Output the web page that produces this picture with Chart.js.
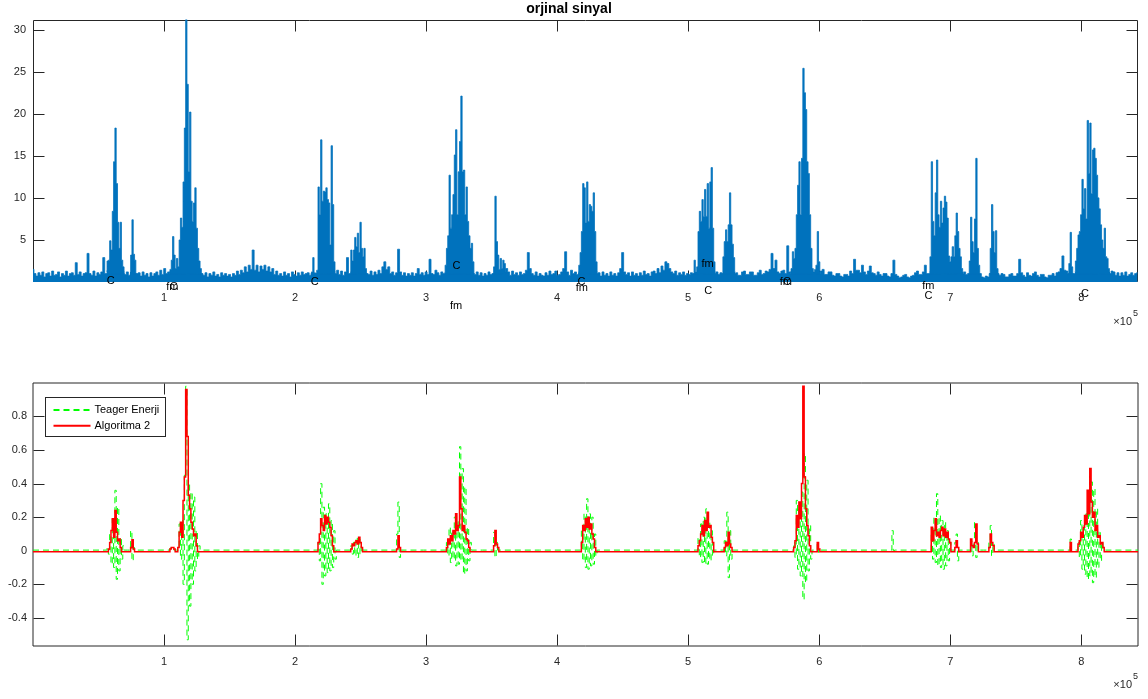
<!DOCTYPE html>
<html>
<head>
<meta charset="utf-8">
<script src="https://cdn.jsdelivr.net/npm/chart.js@4.4.1/dist/chart.umd.min.js"></script>
<style>
  html, body { margin: 0; padding: 0; background: #fff; }
  #wrap { position: relative; width: 1148px; height: 699px; }
  canvas { position: absolute; left: 0; }
  #signalChart { top: 0; }
  #energyChart { top: 340px; }
</style>
</head>
<body>
<div id="wrap">
  <canvas id="signalChart" width="1148" height="340"></canvas>
  <canvas id="energyChart" width="1148" height="359"></canvas>
</div>
<script>
// ---------------- data ----------------
// sample axis shared by both plots
const sampleRange = [0, 843300];
const xTickValues = [100000, 200000, 300000, 400000, 500000, 600000, 700000, 800000];
const xTickText = ['1', '2', '3', '4', '5', '6', '7', '8'];
const xExponent = '5';

// upper plot: original signal
const signalTitle = 'orjinal sinyal';
const signalYRange = [0, 31.2];
const signalYTicks = [5, 10, 15, 20, 25, 30];

// background level of the signal, one value every noiseStep samples (20 per row = 30000 samples)
const noiseStep = 1500;
const signalNoise = [
  1.5, 1.0, 0.7, 1.1, 0.8, 1.2, 0.6, 1.0, 1.1, 0.7, 1.3, 0.8, 0.9, 1.2, 0.6, 1.0, 0.8, 1.3, 0.7, 1.0,
  1.1, 0.8, 2.3, 0.9, 1.2, 0.7, 1.0, 1.1, 3.4, 1.0, 0.8, 1.3, 0.7, 1.1, 0.9, 1.2, 2.9, 1.0, 1.0, 1.0,
  1.0, 1.0, 1.0, 1.0, 1.0, 1.0, 1.0, 0.9, 1.2, 0.8, 1.0, 1.0, 1.0, 1.0, 1.1, 0.7, 1.2, 0.8, 1.0, 0.6,
  1.1, 0.7, 1.0, 1.2, 0.8, 1.4, 0.9, 1.6, 1.0, 1.2, 1.0, 1.0, 1.0, 1.0, 1.0, 1.0, 1.0, 1.0, 1.0, 1.0,
  1.0, 1.0, 1.0, 1.0, 1.0, 1.0, 1.0, 0.8, 1.1, 0.6, 1.0, 0.8, 1.2, 0.7, 0.9, 0.6, 1.1, 0.8, 1.0, 0.7,
  0.9, 0.6, 1.0, 0.8, 1.3, 0.9, 1.4, 1.1, 1.8, 1.2, 2.0, 1.5, 3.8, 1.4, 2.0, 1.2, 1.9, 1.5, 2.0, 1.3,
  1.8, 1.2, 1.6, 0.9, 1.3, 0.8, 1.0, 0.7, 1.2, 0.8, 1.0, 0.6, 1.2, 0.9, 0.7, 1.1, 0.8, 1.2, 0.9, 1.0,
  1.1, 0.8, 1.0, 1.0, 1.0, 1.0, 1.0, 1.0, 1.0, 1.0, 1.0, 1.0, 1.0, 1.0, 1.0, 1.4, 0.9, 1.3, 0.8, 1.2,
  2.9, 1.0, 1.0, 1.0, 1.0, 1.0, 1.0, 1.0, 1.0, 1.0, 1.0, 0.9, 1.3, 0.8, 1.2, 0.9, 1.4, 1.0, 1.8, 2.4,
  1.5, 1.8, 1.0, 1.2, 0.8, 1.1, 3.9, 1.2, 0.8, 1.1, 0.7, 1.0, 0.8, 1.1, 0.7, 1.0, 1.6, 0.9, 1.1, 0.8,
  1.2, 0.9, 2.7, 1.0, 0.9, 1.4, 1.1, 0.8, 1.2, 1.0, 1.0, 1.0, 1.0, 1.0, 1.0, 1.0, 1.0, 1.0, 1.0, 1.0,
  1.0, 1.0, 1.0, 1.0, 1.0, 0.9, 1.2, 0.8, 1.1, 0.7, 1.0, 0.8, 1.2, 0.9, 1.0, 1.0, 1.0, 1.0, 1.0, 1.0,
  1.0, 1.6, 1.2, 0.8, 1.3, 0.9, 1.1, 0.8, 1.2, 0.9, 1.0, 1.4, 3.5, 1.6, 1.0, 0.8, 1.2, 0.7, 1.0, 0.8,
  0.7, 1.1, 0.8, 1.3, 0.9, 1.0, 1.3, 0.8, 0.9, 1.2, 1.6, 3.6, 1.2, 0.8, 1.4, 1.0, 1.2, 0.9, 1.0, 1.0,
  1.0, 1.0, 1.0, 1.0, 1.0, 1.0, 1.0, 1.0, 1.1, 0.7, 1.2, 0.8, 1.0, 0.7, 1.2, 0.8, 1.0, 0.7, 1.1, 1.6,
  3.5, 1.2, 0.9, 1.1, 0.7, 1.2, 0.8, 1.0, 0.7, 1.1, 0.8, 1.3, 0.9, 1.0, 0.7, 1.2, 1.3, 1.0, 1.6, 1.1,
  1.9, 1.4, 2.4, 2.2, 1.6, 1.2, 1.0, 1.3, 0.8, 1.1, 0.9, 1.2, 0.8, 1.0, 0.9, 1.1, 1.0, 1.0, 1.0, 1.0,
  1.0, 1.0, 1.0, 1.0, 1.0, 1.0, 1.0, 1.0, 1.2, 0.9, 1.1, 1.0, 1.0, 1.0, 1.0, 1.0, 1.0, 1.0, 1.1, 0.8,
  0.8, 1.2, 1.3, 0.9, 0.9, 1.2, 1.2, 0.8, 0.8, 1.1, 1.4, 0.9, 1.0, 1.3, 1.2, 1.5, 3.4, 1.6, 2.6, 1.2,
  1.0, 1.3, 1.4, 1.0, 4.3, 1.2, 1.0, 1.0, 1.0, 1.0, 1.0, 1.0, 1.0, 1.0, 1.0, 1.0, 1.0, 1.0, 1.0, 1.0,
  1.0, 1.3, 1.5, 0.9, 0.9, 1.2, 1.2, 0.8, 0.7, 1.0, 1.0, 0.7, 0.6, 0.9, 0.9, 0.7, 1.3, 1.0, 2.7, 1.4,
  1.4, 1.1, 2.0, 1.2, 0.9, 1.3, 1.9, 1.1, 1.0, 0.8, 1.2, 0.9, 0.7, 1.0, 1.0, 0.7, 0.6, 1.0, 2.6, 0.9,
  0.7, 0.5, 0.6, 0.8, 0.9, 0.6, 0.5, 0.7, 0.8, 1.1, 1.3, 0.9, 0.9, 1.2, 2.0, 1.0, 1.0, 1.0, 1.0, 1.0,
  1.0, 1.0, 1.0, 1.0, 1.0, 1.0, 1.0, 1.0, 1.0, 1.0, 1.0, 1.0, 1.0, 1.0, 1.2, 0.9, 1.0, 1.0, 1.0, 1.0,
  1.0, 1.0, 1.0, 0.6, 0.5, 0.7, 0.6, 1.0, 1.0, 1.0, 1.0, 1.0, 0.8, 1.0, 0.9, 0.6, 0.6, 0.9, 1.0, 0.7,
  0.7, 1.0, 2.7, 1.1, 0.8, 0.6, 1.1, 0.8, 0.7, 1.0, 1.2, 0.8, 0.6, 0.9, 0.9, 0.6, 0.5, 0.8, 0.8, 1.0,
  0.7, 1.1, 1.2, 1.6, 3.1, 1.4, 1.3, 1.0, 1.0, 1.0, 1.0, 1.0, 1.0, 1.0, 1.0, 1.0, 1.0, 1.0, 1.0, 1.0,
  1.0, 1.0, 1.0, 1.0, 1.0, 1.0, 1.0, 1.0, 1.0, 1.3, 1.2, 0.8, 1.1, 0.7, 1.1, 0.8, 1.2, 0.7, 0.9, 1.1,
  0.8, 1.0, 1.1
];

// louder stretches of the signal, one value every burstStep samples
const burstStep = 1000;
const signalBurstStart = [56000, 74000, 104000, 212000, 242000, 314000, 351000, 416000,
  504000, 526000, 578000, 684000, 714000, 730000, 790000, 795000];
const signalBurstValues = [
  [1.3, 2.5, 2.6, 4.9, 3.8, 8.4, 14.3, 18.3, 11.7, 7.1, 4.0, 7.1, 2.6, 1.8, 1.2],
  [1.2, 3.2, 7.4, 3.3, 2.6, 1.0],
  [1.2, 1.5, 2.6, 5.4, 3.2, 1.6, 2.8, 1.8, 5.0, 7.6, 6.5, 11.9, 18.3, 31.2, 23.5, 13.1, 20.2, 9.6, 7.2, 9.4, 11.2, 6.4, 4.0, 2.5, 1.6, 1.0],
  [1.0, 1.2, 2.9, 1.1, 1.0, 1.4, 11.3, 8.0, 16.9, 9.6, 10.8, 10.7, 11.2, 9.8, 9.4, 4.4, 16.2, 9.2, 2.4, 1.2],
  [1.2, 3.8, 2.5, 3.8, 5.3, 4.2, 5.8, 3.5, 7.1, 4.0, 3.0, 4.0, 1.6, 1.0],
  [1.1, 2.0, 4.0, 5.5, 12.7, 6.4, 8.0, 10.4, 15.1, 18.1, 8.0, 13.1, 16.7, 22.1, 13.1, 13.3, 8.0, 11.3, 7.2, 5.5, 4.0, 4.6, 2.4, 1.0],
  [1.0, 1.8, 10.2, 4.8, 3.2, 1.5, 2.8, 1.6, 2.6, 2.2, 1.2],
  [1.2, 2.0, 3.5, 6.0, 11.7, 11.2, 7.0, 11.9, 7.2, 9.2, 9.0, 8.4, 10.6, 6.0, 2.4, 1.2],
  [1.0, 2.6, 1.2, 1.8, 6.0, 8.4, 7.2, 9.8, 7.8, 11.0, 7.8, 11.7, 6.4, 11.9, 13.6, 6.4, 2.4, 1.2],
  [1.0, 3.0, 4.8, 6.2, 4.8, 6.8, 10.6, 6.8, 4.5, 2.9, 1.2],
  [1.2, 1.6, 3.6, 2.8, 4.0, 8.0, 11.5, 14.3, 8.0, 14.7, 25.4, 22.5, 20.5, 14.3, 12.9, 8.0, 4.0, 1.6, 1.2, 1.5, 2.0, 6.0, 2.4, 1.2],
  [1.2, 3.0, 14.3, 7.2, 5.5, 10.6, 14.5, 8.0, 6.5, 9.6, 7.0, 8.8, 10.2, 9.5, 7.6, 3.1, 2.4, 3.0, 4.2, 3.0, 5.5, 8.2, 6.0, 4.0, 3.0, 1.6, 1.2],
  [1.0, 2.5, 7.7, 4.8, 3.5, 7.5, 14.7, 4.0, 2.0, 1.0],
  [1.0, 4.0, 9.2, 6.0, 3.5, 6.1, 1.6, 0.8],
  [1.0, 2.2, 5.9, 1.8, 1.0],
  [1.2, 2.5, 4.0, 5.6, 6.0, 8.0, 12.2, 8.7, 11.1, 7.5, 19.2, 12.9, 18.9, 10.5, 15.7, 15.9, 14.7, 12.7, 10.0, 8.7, 6.8, 5.0, 4.0, 6.4, 3.0, 2.8, 1.6, 1.2]
];

// segment marks written onto the signal (sample, amplitude)
const markText = ['C', 'fm', 'C', 'C', 'C', 'fm', 'C', 'fm', 'fm', 'C', 'fm', 'C', 'fm', 'C', 'C'];
const markX = [59300, 106300, 107400, 215000, 323200, 322900, 418600, 418900, 514800, 515300, 574600, 575400, 683300, 683300, 802900];
const markY = [0.07, -0.6, -0.64, 0.04, 1.93, -2.79, -0.01, -0.68, 2.1, -1.08, -0.05, -0.05, -0.49, -1.63, -1.39];

// lower plot: energy curves
const energyYRange = [-0.567, 0.999];
const energyYTicks = [-0.4, -0.2, 0, 0.2, 0.4, 0.6, 0.8];
const energyYTickText = ['-0.4', '-0.2', '0', '0.2', '0.4', '0.6', '0.8'];

const teagerLabel = 'Teager Enerji';
const teagerQuiet = 0.004;
const teagerBurstStart = [56000, 74000, 104000, 111000, 217000, 242000, 277000, 315000, 351000, 418000,
  507000, 527000, 580000, 598000, 655000, 685000, 703000, 715000, 729000, 791000, 797000];
const teagerBurstValues = [
  [0.004, 0.02, -0.02, 0.10, -0.08, 0.19, -0.10, 0.36, -0.17, 0.26, -0.12, 0.08, -0.05, 0.03, 0.004],
  [0.004, 0.12, -0.06, 0.02, 0.004],
  [0.004, 0.015, 0.02, 0.01, 0.004],
  [0.004, 0.16, -0.05, 0.18, -0.20, 0.45, 0.98, -0.53, 0.40, -0.33, 0.35, -0.20, 0.32, -0.12, 0.12, -0.05, 0.03, 0.004],
  [0.004, 0.05, -0.06, 0.40, -0.20, 0.26, -0.15, 0.22, -0.13, 0.28, -0.12, 0.18, -0.10, 0.12, -0.05, 0.004],
  [0.004, 0.03, -0.02, 0.05, -0.03, 0.08, -0.04, 0.07, -0.02, 0.03, 0.004],
  [0.004, 0.10, 0.29, -0.04, 0.004],
  [0.004, 0.05, -0.03, 0.14, -0.07, 0.12, -0.05, 0.20, -0.09, 0.18, -0.08, 0.62, -0.06, 0.49, -0.14, 0.38, -0.12, 0.14, -0.06, 0.05, 0.004],
  [0.004, 0.11, -0.04, 0.05, 0.004],
  [0.004, 0.12, -0.06, 0.22, -0.10, 0.31, -0.11, 0.22, -0.09, 0.20, -0.08, 0.10, -0.03, 0.004],
  [0.004, 0.08, -0.04, 0.16, -0.07, 0.20, -0.08, 0.25, -0.08, 0.18, -0.06, 0.12, -0.03, 0.004],
  [0.004, 0.06, -0.03, 0.23, -0.16, 0.12, -0.05, 0.004],
  [0.004, 0.05, -0.04, 0.30, -0.11, 0.25, -0.15, 0.35, -0.29, 0.58, -0.19, 0.42, -0.12, 0.15, -0.05, 0.004],
  [0.004, 0.04, -0.01, 0.004],
  [0.004, 0.12, 0.0, 0.004],
  [0.004, 0.10, -0.05, 0.20, -0.07, 0.34, -0.09, 0.21, -0.10, 0.18, -0.11, 0.17, -0.09, 0.12, -0.06, 0.05, 0.004],
  [0.004, 0.05, 0.10, -0.06, 0.004],
  [0.004, 0.06, -0.03, 0.04, 0.17, -0.04, 0.05, 0.004],
  [0.004, 0.05, 0.15, -0.03, 0.04, 0.004],
  [0.004, 0.07, 0.004],
  [0.004, 0.05, -0.04, 0.18, -0.11, 0.15, -0.14, 0.22, -0.17, 0.30, -0.15, 0.41, -0.19, 0.37, -0.16, 0.25, -0.10, 0.12, -0.06, 0.05, 0.004]
];

const algLabel = 'Algoritma 2';
const algQuiet = -0.006;
const algBurstStart = [57000, 74000, 104000, 217000, 242000, 277000, 315000, 351000, 418000, 507000,
  527000, 580000, 598000, 685000, 703000, 715000, 729000, 791000, 797000];
const algBurstValues = [
  [-0.006, 0.01, 0.05, 0.12, 0.19, 0.08, 0.24, 0.11, 0.06, 0.07, 0.02, -0.006],
  [-0.006, 0.02, 0.065, 0.01, -0.006],
  [-0.006, 0.01, 0.02, 0.02, 0.01, -0.006, -0.006, 0.02, 0.11, 0.17, 0.08, 0.30, 0.44, 0.96, 0.68, 0.33, 0.25, 0.17, 0.13, 0.09, 0.10, 0.03, -0.006],
  [-0.006, 0.05, 0.10, 0.19, 0.15, 0.12, 0.21, 0.16, 0.20, 0.17, 0.14, 0.09, 0.03, -0.006],
  [-0.006, 0.01, 0.04, 0.03, 0.05, 0.06, 0.04, 0.08, 0.05, 0.02, -0.006],
  [-0.006, 0.01, 0.09, 0.02, -0.006],
  [-0.006, 0.02, 0.07, 0.04, 0.09, 0.06, 0.12, 0.10, 0.22, 0.12, 0.15, 0.44, 0.25, 0.12, 0.15, 0.11, 0.07, 0.06, 0.02, -0.006],
  [-0.006, 0.03, 0.12, 0.04, 0.02, -0.006],
  [-0.006, 0.05, 0.15, 0.12, 0.19, 0.14, 0.20, 0.13, 0.16, 0.10, 0.07, 0.02, -0.006],
  [-0.006, 0.03, 0.06, 0.10, 0.15, 0.09, 0.18, 0.12, 0.23, 0.14, 0.15, 0.08, 0.05, -0.006],
  [-0.006, 0.02, 0.05, 0.03, 0.11, 0.04, 0.02, -0.006],
  [-0.006, 0.02, 0.06, 0.21, 0.14, 0.29, 0.19, 0.40, 0.98, 0.44, 0.25, 0.15, 0.09, 0.03, -0.006],
  [-0.006, 0.05, 0.01, -0.006],
  [-0.006, 0.14, 0.06, 0.12, 0.19, 0.09, 0.11, 0.08, 0.12, 0.14, 0.09, 0.13, 0.08, 0.11, 0.07, 0.05, -0.006],
  [-0.006, 0.02, 0.06, 0.02, -0.006],
  [-0.006, 0.07, 0.03, 0.02, 0.05, 0.16, 0.04, -0.006],
  [-0.006, 0.02, 0.10, 0.05, 0.03, -0.006],
  [-0.006, 0.05, -0.006],
  [-0.006, 0.04, 0.06, 0.11, 0.08, 0.14, 0.21, 0.16, 0.36, 0.22, 0.49, 0.29, 0.20, 0.23, 0.12, 0.15, 0.08, 0.09, 0.04, 0.05, 0.02, -0.006]
];

// ---------------- styling ----------------
const FONT = "'Liberation Sans', Arial, Helvetica, sans-serif";
const AXIS_COLOR = '#262626';
const SIGNAL_BLUE = '#0072BD';
const TEAGER_GREEN = '#00FF00';
const ALG_RED = '#FF0000';
const TICK_LEN = 11;

// ---------------- helpers ----------------
function toPoints(start, step, values) {
  return values.map((v, i) => ({ x: start + i * step, y: v }));
}

// a quiet baseline joined through every burst, from one end of the record to the other
function joinedSeries(quiet, starts, values) {
  const pts = [{ x: sampleRange[0], y: quiet }];
  starts.forEach((s, i) => pts.push(...toPoints(s, burstStep, values[i])));
  pts.push({ x: sampleRange[1], y: quiet });
  return pts;
}

function xAxis(height, pad) {
  return {
    type: 'linear',
    min: sampleRange[0],
    max: sampleRange[1],
    grid: { display: false, drawTicks: false },
    border: { display: false },
    ticks: {
      autoSkip: false, maxRotation: 0, padding: pad, color: AXIS_COLOR,
      font: { family: FONT, size: 11 },
      callback: (v) => { const i = xTickValues.indexOf(v); return i >= 0 ? xTickText[i] : ''; }
    },
    afterBuildTicks: (s) => { s.ticks = xTickValues.map((v) => ({ value: v })); },
    afterFit: (s) => { s.height = height; }
  };
}

function yAxis(range, ticks, text, width, pad) {
  return {
    type: 'linear',
    min: range[0],
    max: range[1],
    grid: { display: false, drawTicks: false },
    border: { display: false },
    ticks: {
      autoSkip: false, padding: pad, color: AXIS_COLOR,
      font: { family: FONT, size: 11 },
      callback: (v) => { const i = ticks.indexOf(v); return i >= 0 ? text[i] : ''; }
    },
    afterBuildTicks: (s) => { s.ticks = ticks.map((v) => ({ value: v })); },
    afterFit: (s) => { s.width = width; }
  };
}

// box and inward tick marks, drawn beneath the data
const axesBox = {
  id: 'axesBox',
  beforeDatasetsDraw(chart, args, o) {
    const { ctx, chartArea: a } = chart;
    const xs = chart.scales.x, ys = chart.scales.y;
    const off = o.soft ? 0 : 0.5;
    const L = Math.round(a.left) + off, R = Math.round(a.right) - off;
    const T = Math.round(a.top) + off, B = Math.round(a.bottom) - off;
    const l = Math.round(a.left) + 0.5, r = Math.round(a.right) - 0.5;
    const t0 = Math.round(a.top) + 0.5, b0 = Math.round(a.bottom) - 0.5;
    ctx.save();
    ctx.strokeStyle = o.color;
    ctx.lineWidth = 1;
    ctx.beginPath();
    ctx.rect(L, T, R - L, B - T);
    ctx.stroke();
    ctx.beginPath();
    xs.ticks.forEach((t) => {
      const p = Math.round(xs.getPixelForValue(t.value)) + 0.5;
      ctx.moveTo(p, t0); ctx.lineTo(p, t0 + TICK_LEN);
      ctx.moveTo(p, b0); ctx.lineTo(p, b0 - TICK_LEN);
    });
    ys.ticks.forEach((t) => {
      const p = Math.round(ys.getPixelForValue(t.value)) + 0.5;
      ctx.moveTo(l, p); ctx.lineTo(l + TICK_LEN, p);
      ctx.moveTo(r, p); ctx.lineTo(r - TICK_LEN, p);
    });
    ctx.stroke();
    ctx.restore();
  }
};

// "x10^5" multiplier under the right end of the x axis
const axisExponent = {
  id: 'axisExponent',
  afterDraw(chart, args, o) {
    const { ctx, chartArea: a } = chart;
    ctx.save();
    ctx.fillStyle = AXIS_COLOR;
    ctx.textBaseline = 'middle';
    ctx.font = `11px ${FONT}`;
    ctx.textAlign = 'right';
    ctx.fillText('\u00d710', a.right - 6, a.bottom + o.dy);
    ctx.font = `9px ${FONT}`;
    ctx.textAlign = 'left';
    ctx.fillText(xExponent, a.right - 5, a.bottom + o.dy - 8);
    ctx.restore();
  }
};

// C / fm marks placed in data coordinates
const segmentMarks = {
  id: 'segmentMarks',
  afterDraw(chart) {
    const { ctx } = chart;
    const xs = chart.scales.x, ys = chart.scales.y;
    ctx.save();
    ctx.fillStyle = '#000';
    ctx.font = `11px ${FONT}`;
    ctx.textAlign = 'center';
    ctx.textBaseline = 'middle';
    markText.forEach((t, i) => {
      ctx.fillText(t, xs.getPixelForValue(markX[i]), ys.getPixelForValue(markY[i]));
    });
    ctx.restore();
  }
};

// legend box inside the upper-left corner of the plot
const cornerLegend = {
  id: 'cornerLegend',
  afterDraw(chart) {
    const { ctx, chartArea: a } = chart;
    const x0 = Math.round(a.left + 12) + 0.5, y0 = Math.round(a.top + 14) + 0.5;
    const w = 120, h = 39;
    ctx.save();
    ctx.fillStyle = '#fff';
    ctx.fillRect(x0, y0, w, h);
    ctx.strokeStyle = AXIS_COLOR;
    ctx.lineWidth = 1;
    ctx.strokeRect(x0, y0, w, h);
    chart.data.datasets.forEach((ds, i) => {
      const y = y0 + 12.5 + i * 15.7;
      ctx.strokeStyle = ds.borderColor;
      ctx.lineWidth = 2;
      ctx.setLineDash(ds.borderDash || []);
      ctx.beginPath();
      ctx.moveTo(x0 + 8, y);
      ctx.lineTo(x0 + 45, y);
      ctx.stroke();
      ctx.setLineDash([]);
      ctx.fillStyle = '#000';
      ctx.font = `11px ${FONT}`;
      ctx.textAlign = 'left';
      ctx.textBaseline = 'middle';
      ctx.fillText(ds.label, x0 + 49, y);
    });
    ctx.restore();
  }
};

const baseOptions = {
  responsive: false,
  animation: false,
  devicePixelRatio: 1,
  events: [],
  elements: { point: { radius: 0 }, line: { tension: 0 } }
};

// ---------------- upper chart ----------------
// each value is drawn as a column, like a dense waveform seen at screen resolution
function signalSet(points) {
  return {
    label: 'sinyal', data: points, stepped: 'middle',
    borderColor: SIGNAL_BLUE, backgroundColor: SIGNAL_BLUE, borderWidth: 0.8, fill: 'origin'
  };
}
const signalDatasets = [signalSet(toPoints(0, noiseStep, signalNoise))];
signalBurstStart.forEach((s, i) => {
  signalDatasets.push(signalSet(toPoints(s, burstStep, signalBurstValues[i])));
});

new Chart(document.getElementById('signalChart'), {
  type: 'line',
  data: { datasets: signalDatasets },
  options: Object.assign({}, baseOptions, {
    layout: { padding: { left: 0, right: 10, top: 0, bottom: 0 } },
    scales: {
      x: xAxis(58, 9.5),
      y: yAxis(signalYRange, signalYTicks, signalYTicks.map(String), 33, 7)
    },
    plugins: {
      legend: { display: false },
      tooltip: { enabled: false },
      title: {
        display: true, text: signalTitle, color: '#000',
        font: { family: FONT, size: 14, weight: 'bold' },
        padding: { top: 0.5, bottom: 2.2 }
      },
      axesBox: { color: AXIS_COLOR, soft: false },
      axisExponent: { dy: 40 }
    }
  }),
  plugins: [axesBox, axisExponent, segmentMarks]
});

// ---------------- lower chart ----------------
new Chart(document.getElementById('energyChart'), {
  type: 'line',
  data: {
    datasets: [
      {
        label: teagerLabel,
        data: joinedSeries(teagerQuiet, teagerBurstStart, teagerBurstValues),
        stepped: 'middle',
        borderColor: TEAGER_GREEN, borderWidth: 1, borderDash: [6, 4], fill: false, order: 2
      },
      {
        label: algLabel,
        data: joinedSeries(algQuiet, algBurstStart, algBurstValues),
        stepped: 'middle',
        borderColor: ALG_RED, borderWidth: 1.5, fill: false, order: 1
      }
    ]
  },
  options: Object.assign({}, baseOptions, {
    layout: { padding: { left: 0, right: 10, top: 43, bottom: 0 } },
    scales: {
      x: xAxis(53, 9),
      y: yAxis(energyYRange, energyYTicks, energyYTickText, 33, 6)
    },
    plugins: {
      legend: { display: false },
      tooltip: { enabled: false },
      axesBox: { color: AXIS_COLOR, soft: true },
      axisExponent: { dy: 39 }
    }
  }),
  plugins: [axesBox, axisExponent, cornerLegend]
});
</script>
</body>
</html>
